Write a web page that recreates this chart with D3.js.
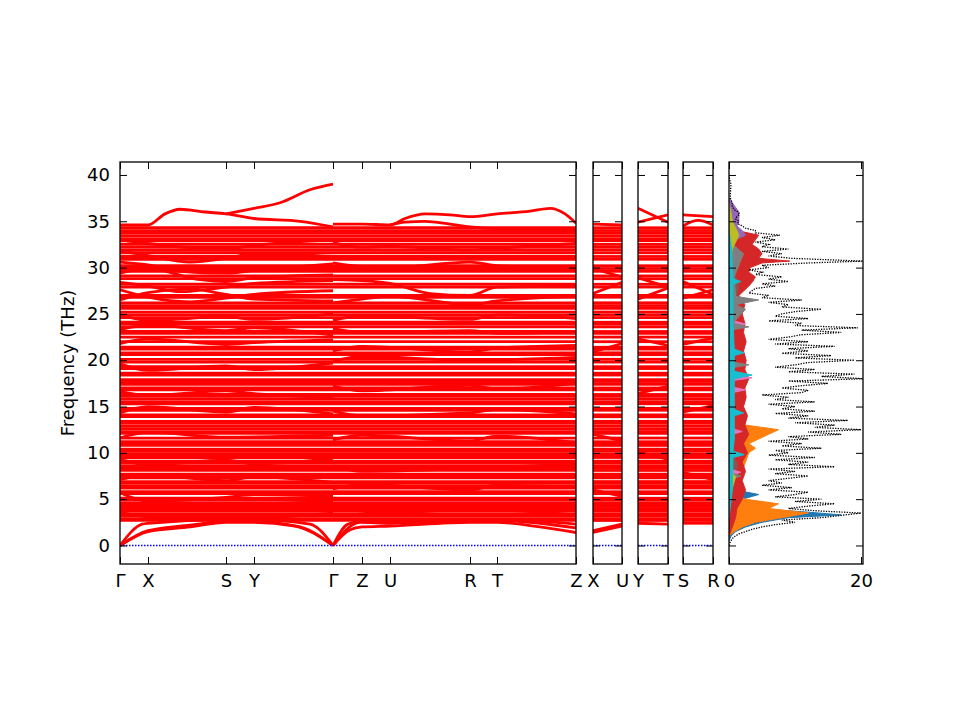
<!DOCTYPE html>
<html>
<head>
<meta charset="utf-8">
<script src="https://cdn.jsdelivr.net/npm/d3@7"></script>
<style>
  body { margin: 0; background: #fff; }
  text { font-family: "DejaVu Sans", sans-serif; }
</style>
</head>
<body>
<div id="chart"></div>
<script>
// high-symmetry path (reciprocal distance) and labels
const pathK = [0, 0.28, 1.06, 1.34, 2.13, 2.42, 2.70, 3.50, 3.77, 4.56];
const pathLabels = ["Γ", "X", "S", "Y", "Γ", "Z", "U", "R", "T", "Z"];
const freqTicks = [0, 5, 10, 15, 20, 25, 30, 35, 40];
const dosTicks = [0, 20];

// nearly flat optical branches (THz)
const flatLevels = [
  34.3, 34.0, 33.7, 33.4, 33.1, 32.9, 32.5, 32.2, 31.9, 31.6, 31.2, 30.9,
  30.2, 29.9, 29.6, 29.1, 28.8, 28.2, 27.9, 27.0, 26.8, 26.2, 25.9, 25.6,
  25.2, 24.9, 24.6, 24.1, 23.9, 23.6, 23.1, 22.9, 22.5, 22.0, 21.4, 21.2,
  20.8, 20.6, 20.1, 19.8, 19.3, 19.1, 18.6, 18.4, 17.9, 17.7, 17.4, 17.0,
  16.8, 16.3, 16.1, 15.8, 15.5, 15.3, 14.8, 14.6, 14.1, 13.9, 13.4, 13.2,
  12.9, 12.6, 12.3, 12.1, 11.6, 11.2, 11.0, 10.8, 10.4, 10.2, 9.9, 9.7,
  9.5, 9.1, 8.9, 8.6, 8.4, 8.1, 7.7, 7.5, 7.3, 6.9, 6.7, 6.4, 6.2, 5.8,
  5.6, 5.1, 4.9, 4.6, 4.4, 4.2, 3.9, 3.7, 3.4, 3.2, 2.9, 2.7
];

// dispersive branches along the main path, [k, THz]
const mainBands = [
  // acoustic, Γ-X-S-Y-Γ
  [[0, 0], [0.28, 1.5], [0.7, 2.0], [1.06, 2.5], [1.34, 2.5], [1.75, 2.1], [2.13, 0]],
  [[0, 0], [0.28, 1.6], [0.7, 2.2], [1.06, 2.6], [1.34, 2.6], [1.8, 2.0], [2.13, 0]],
  [[0, 0], [0.22, 2.3], [0.28, 2.4], [1.06, 2.8], [1.34, 2.8], [1.9, 2.3], [2.13, 0]],
  // acoustic, Γ-Z-U-R-T-Z
  [[2.13, 0], [2.30, 1.7], [2.42, 2.0], [2.70, 2.1], [3.50, 2.5], [3.77, 2.5], [4.2, 2.0], [4.56, 1.4]],
  [[2.13, 0], [2.40, 2.5], [2.70, 2.4], [3.50, 2.7], [3.77, 2.7], [4.56, 1.9]],
  [[2.13, 0], [2.28, 2.3], [2.42, 2.6], [3.0, 2.6], [3.77, 2.8], [4.56, 2.3]],
  // top branches
  [[0, 34.6], [0.28, 34.6], [0.45, 35.8], [0.6, 36.3], [0.85, 36.0], [1.06, 35.8], [1.34, 35.3], [1.8, 35.0], [2.13, 34.4]],
  [[1.06, 35.8], [1.34, 36.4], [1.6, 37.0], [1.9, 38.4], [2.13, 39.0]],
  [[2.13, 34.7], [2.42, 34.7], [2.70, 34.6], [2.85, 35.3], [3.05, 35.8], [3.3, 35.7], [3.50, 35.5], [3.77, 35.8], [4.1, 36.1], [4.3, 36.4], [4.45, 35.8], [4.56, 34.8]],
  [[2.70, 34.6], [2.85, 34.9], [3.05, 35.0], [3.3, 34.7], [3.50, 34.4], [3.77, 34.2], [4.56, 34.1]],
  // crossing optical branches, Γ-X-S-Y-Γ
  [[0, 27.6], [0.28, 26.8], [0.7, 26.3], [1.06, 26.7], [1.34, 27.1], [2.13, 27.5]],
  [[0, 26.5], [0.28, 27.3], [0.7, 27.7], [1.06, 27.1], [1.34, 26.6], [2.13, 26.4]],
  [[0, 29.4], [0.28, 29.9], [0.8, 28.7], [1.06, 28.5], [1.34, 28.9], [2.13, 29.2]],
  [[0, 30.6], [0.28, 30.3], [0.6, 29.6], [1.06, 29.4], [1.34, 29.7], [2.13, 30.4]],
  [[0, 33.0], [0.28, 32.6], [1.06, 32.0], [1.34, 32.4], [2.13, 33.0]],
  [[0, 31.8], [0.28, 31.3], [0.7, 30.6], [1.06, 31.0], [1.34, 31.5], [2.13, 31.2]],
  [[0, 28.4], [0.28, 28.0], [0.6, 27.4], [1.06, 27.9], [1.34, 28.3], [2.13, 28.6]],
  [[0, 24.9], [0.28, 24.3], [1.06, 24.7], [1.34, 24.4], [2.13, 25.0]],
  [[0, 23.3], [0.28, 23.8], [1.06, 23.2], [1.34, 23.5], [2.13, 22.7]],
  [[0, 21.8], [0.28, 22.3], [1.06, 21.7], [1.34, 21.9], [2.13, 22.2]],
  [[0, 19.6], [0.28, 18.9], [1.06, 19.4], [1.34, 19.0], [2.13, 19.7]],
  [[0, 16.6], [0.28, 16.2], [1.06, 16.7], [1.34, 16.4], [2.13, 16.0]],
  [[0, 14.3], [0.28, 15.0], [1.06, 14.4], [1.34, 14.9], [2.13, 14.2]],
  [[0, 11.6], [0.28, 12.2], [1.06, 11.7], [2.13, 11.9]],
  [[0, 9.3], [0.28, 8.7], [1.06, 9.2], [1.34, 8.8], [2.13, 9.4]],
  [[0, 7.1], [0.28, 7.6], [1.06, 7.0], [1.34, 7.4], [2.13, 6.8]],
  [[0, 5.7], [0.28, 4.8], [1.06, 5.2], [1.34, 5.5], [2.13, 5.3]],
  [[0, 4.0], [0.28, 4.5], [1.06, 4.1], [1.34, 4.4], [2.13, 4.7]],
  [[0, 3.6], [0.28, 3.1], [1.06, 3.0], [1.34, 3.0], [2.13, 3.5]],
  // crossing optical branches, Γ-Z-U-R-T-Z
  [[2.13, 28.7], [2.42, 28.6], [2.70, 28.3], [3.1, 27.2], [3.50, 27.0], [3.77, 27.9], [4.56, 28.0]],
  [[2.13, 30.5], [2.42, 30.1], [2.70, 30.0], [3.50, 30.6], [3.77, 30.2], [4.56, 29.9]],
  [[2.13, 32.7], [2.42, 32.2], [2.70, 32.3], [3.50, 31.9], [3.77, 32.1], [4.56, 32.6]],
  [[2.13, 26.2], [2.42, 26.6], [2.70, 26.9], [3.50, 26.0], [3.77, 26.4], [4.56, 26.9]],
  [[2.13, 24.3], [2.42, 24.8], [3.50, 24.4], [3.77, 24.9], [4.56, 24.5]],
  [[2.13, 23.4], [2.42, 23.0], [3.50, 23.2], [3.77, 22.9], [4.56, 23.1]],
  [[2.13, 21.0], [2.42, 21.5], [3.50, 20.9], [3.77, 21.3], [4.56, 21.6]],
  [[2.13, 19.9], [2.42, 20.4], [3.50, 20.0], [4.56, 20.3]],
  [[2.13, 17.2], [2.42, 16.7], [3.50, 17.3], [3.77, 16.9], [4.56, 17.5]],
  [[2.13, 14.5], [2.42, 14.0], [3.50, 14.3], [3.77, 14.7], [4.56, 14.2]],
  [[2.13, 11.4], [2.42, 11.9], [3.50, 11.3], [3.77, 11.8], [4.56, 11.1]],
  [[2.13, 8.6], [2.42, 8.0], [3.50, 8.3], [4.56, 8.8]],
  [[2.13, 6.1], [2.42, 6.6], [3.50, 6.0], [3.77, 6.5], [4.56, 6.3]],
  [[2.13, 4.3], [2.42, 3.7], [2.70, 3.5], [3.50, 3.9], [4.56, 3.3]]
];

// short segments X-U, Y-T, S-R
const xuBands = [
  [[0, 1.4], [0.29, 2.1]], [[0, 1.6], [0.29, 2.3]], [[0, 34.7], [0.29, 34.6]],
  [[0, 27.2], [0.29, 28.4]], [[0, 29.9], [0.29, 29.0]], [[0, 12.0], [0.29, 11.3]],
  [[0, 20.9], [0.29, 21.8]], [[0, 6.0], [0.29, 5.3]]
];
const ytBands = [
  [[0, 2.4], [0.30, 2.3]], [[0, 36.4], [0.30, 34.9]], [[0, 34.9], [0.30, 35.7]],
  [[0, 26.6], [0.30, 27.8]], [[0, 28.9], [0.30, 27.9]], [[0, 16.4], [0.30, 17.2]],
  [[0, 10.1], [0.30, 9.3]], [[0, 22.3], [0.30, 21.6]]
];
const srBands = [
  [[0, 2.4], [0.30, 2.4]], [[0, 35.7], [0.30, 35.5]], [[0, 34.5], [0.15, 35.1], [0.30, 34.6]],
  [[0, 26.7], [0.30, 27.6]], [[0, 28.5], [0.30, 27.1]], [[0, 21.7], [0.30, 22.4]],
  [[0, 14.4], [0.30, 15.1]], [[0, 7.9], [0.30, 7.1]]
];

// total DOS, [THz, states]
const dosTotal = [
  [0, 0], [0.25, 0.1], [0.5, 0.3], [0.75, 0.5], [1.0, 0.9], [1.25, 1.5], [1.5, 2.5], [1.75, 3.5],
  [2.0, 5], [2.25, 7], [2.5, 10], [2.75, 8], [3.0, 14], [3.25, 17], [3.5, 20], [3.75, 13],
  [4.0, 9], [4.25, 12], [4.5, 16], [4.75, 10], [5.0, 14], [5.25, 7], [5.5, 10], [5.75, 12],
  [6.0, 6], [6.25, 9.5], [6.5, 5], [6.75, 8], [7.0, 6], [7.25, 9], [7.5, 12], [7.75, 7],
  [8.0, 10], [8.25, 6], [8.5, 16], [8.75, 9], [9.0, 12], [9.25, 7], [9.5, 13], [9.75, 6],
  [10.0, 9], [10.25, 7], [10.5, 14], [10.75, 8], [11.0, 11], [11.25, 6], [11.5, 12], [11.75, 9],
  [12.0, 17], [12.25, 12], [12.5, 20], [12.75, 13], [13.0, 16], [13.25, 10], [13.5, 18], [13.75, 9],
  [14.0, 12], [14.25, 7], [14.5, 13], [14.75, 8], [15.0, 10], [15.25, 6], [15.5, 13], [15.75, 7],
  [16.0, 9], [16.25, 5], [16.5, 11], [16.75, 12], [17.0, 8], [17.25, 11], [17.5, 15], [17.75, 9],
  [18.0, 20.5], [18.25, 14], [18.5, 19], [18.75, 9], [19.0, 13], [19.25, 7], [19.5, 10], [19.75, 12],
  [20.0, 19], [20.25, 10], [20.5, 15.5], [20.75, 8], [21.0, 12], [21.25, 9], [21.5, 16], [21.75, 7],
  [22.0, 12], [22.25, 6], [22.5, 9], [22.75, 11], [23.0, 17], [23.25, 11], [23.5, 19.5], [23.75, 10],
  [24.0, 11], [24.25, 6], [24.5, 12], [24.75, 7], [25.0, 8], [25.25, 10], [25.5, 14], [25.75, 8],
  [26.0, 9], [26.25, 6], [26.5, 11], [26.75, 5], [27.0, 6], [27.25, 3], [27.5, 3.5], [27.75, 4],
  [28.0, 7], [28.25, 5], [28.5, 9], [28.75, 6], [29.0, 8], [29.25, 4], [29.5, 5], [29.75, 3],
  [30.0, 6], [30.25, 5], [30.5, 12], [30.7, 20.3], [31.0, 9.5], [31.25, 6], [31.5, 8], [31.75, 5],
  [32.0, 9], [32.25, 5], [32.5, 6], [32.75, 4], [33.0, 7], [33.25, 5], [33.5, 7.7], [33.75, 4],
  [34.0, 4], [34.25, 2.5], [34.5, 2], [34.75, 1.3], [35.0, 1.5], [35.25, 1], [35.5, 1.2], [35.75, 1.6],
  [36.0, 1.4], [36.25, 0.8], [36.5, 0.6], [36.75, 0.4], [37.0, 0.5], [37.5, 0.2], [38.0, 0.2], [39.0, 0.3],
  [39.5, 0.1], [40.0, 0]
];

// partial DOS by group, [THz, states]
const pdosBlue = [[0.5, 0], [1, 0.3], [1.5, 1], [2, 2.5], [2.5, 5], [3, 9], [3.3, 17], [3.6, 12], [4, 4], [4.5, 3], [5, 2], [5.5, 4.5], [6, 1], [7, 0.5], [9, 0.4], [12, 0.3], [16, 0.2], [20, 0]];
const pdosOrange = [[1, 0], [1.5, 0.8], [2, 2], [2.5, 4], [3, 8], [3.5, 12], [4, 6], [4.5, 7.5], [5, 2.5], [5.5, 1], [6, 1.5], [7, 1.5], [8, 2], [9, 2.5], [10, 3], [10.5, 4], [11, 3], [11.5, 4.5], [12, 6], [12.5, 7.5], [13, 2.5], [13.5, 1.5], [14, 1.2], [15, 1], [16, 1], [18, 1.2], [20, 1], [22, 1], [24, 0.8], [26, 0.8], [28, 0.6], [30, 0.5], [32, 0.4], [34, 0.2], [35, 0]];
const pdosGreen = [[2, 0], [4, 0.5], [6, 1], [8, 1], [10, 1.2], [11, 1.5], [12, 1.5], [14, 1], [16, 1], [18, 1.2], [19.5, 1.6], [20, 1], [22, 1], [24, 1], [26, 1.2], [28, 1.5], [30, 2], [31.5, 3.2], [32, 1.5], [33, 1], [34, 0.5], [35, 0]];
const pdosRed = [[1, 0], [2, 0.5], [3, 1], [4, 1.2], [5, 2], [6, 2.5], [7, 2], [8, 2.5], [9, 2], [10, 2.8], [11, 2.2], [12, 3], [13, 2.4], [14, 2.8], [15, 2.2], [16, 2.6], [17, 2.4], [18, 3], [19, 2.4], [20, 2.6], [21, 2.2], [22, 2.6], [23, 2.2], [24, 2.4], [25, 2], [26, 2.4], [27, 1.5], [28, 3], [28.5, 3.6], [29, 4], [29.5, 3], [30, 3.2], [30.5, 5], [30.7, 9.2], [31, 4.5], [31.5, 5], [32, 4.5], [32.5, 3.5], [33, 4], [33.5, 4.5], [34, 1.2], [34.5, 0]];
const pdosPurple = [[24, 0], [26.3, 0.3], [26.5, 3.8], [26.8, 0.3], [30, 0], [32, 0.5], [33, 1], [33.5, 2.5], [34, 2], [34.5, 1.2], [35, 1.5], [35.5, 1.5], [36, 1.5], [36.5, 1], [37, 0.5], [37.5, 0]];
const pdosBrown = [[3, 0], [6, 0.5], [8.7, 1.3], [10, 0.5], [15, 0.5], [20, 0.5], [25, 0.6], [28, 1.5], [29, 1], [32, 0.5], [34, 0]];
const pdosPink = [[5, 0], [7.6, 0.4], [7.9, 1.8], [8.2, 0.4], [12, 0.5], [12.3, 2], [12.6, 0.5], [16.5, 0.5], [16.8, 2.5], [17.1, 0.5], [17.8, 0.6], [18.1, 3.5], [18.5, 0.5], [23.6, 0.5], [23.9, 2.5], [24.3, 0.5], [27, 0.3], [30, 0]];
const pdosGray = [[4, 0], [7.2, 0.5], [7.5, 1.8], [7.8, 0.5], [12, 0.6], [19.2, 0.6], [19.5, 3], [19.8, 0.6], [23.3, 0.6], [23.6, 3], [24, 0.6], [25.5, 2.5], [26, 1], [26.5, 4.5], [26.9, 1], [29, 0.8], [31.5, 2.2], [32.5, 0.6], [34, 0]];
const pdosOlive = [[5, 0], [7.4, 1], [8, 0.3], [30, 0], [32, 0.5], [33.5, 1.5], [34, 1.2], [35, 0.5], [36, 0.3], [37, 0]];
const pdosCyan = [[3, 0], [6, 0.5], [9.5, 0.6], [9.8, 2.3], [10.2, 0.6], [11.5, 0.8], [14, 0.8], [14.3, 2.2], [14.7, 0.8], [18, 0.8], [18.4, 3.5], [18.8, 0.8], [20.5, 0.8], [20.8, 2.3], [21.2, 0.8], [24, 0.6], [28.2, 0.6], [28.5, 1.8], [28.8, 0.6], [32, 0.4], [34, 0]];

const pdosList = [pdosBlue, pdosOrange, pdosGreen, pdosRed, pdosPurple, pdosBrown, pdosPink, pdosGray, pdosOlive, pdosCyan];
const pdosColors = ["#1f77b4", "#ff7f0e", "#2ca02c", "#d62728", "#9467bd", "#8c564b", "#e377c2", "#7f7f7f", "#bcbd22", "#17becf"];

// layout
let width = 960;
let height = 720;
let plotTop = 162;
let plotBottom = 564;
let tickLen = 7;
let bandWidth = 2.8;

let svg = d3
    .select("#chart")
    .append("svg")
    .attr("width", width)
    .attr("height", height);

let y = d3.scaleLinear().domain([-2, 41.4]).range([plotBottom, plotTop]);

let panels = [
  { k: [0, 4.56], x0: 120, x1: 576, ticks: pathK, labels: pathLabels, bands: mainBands },
  { k: [0, 0.29], x0: 593, x1: 622, ticks: [0, 0.29], labels: ["X", "U"], bands: xuBands },
  { k: [0, 0.30], x0: 638, x1: 668, ticks: [0, 0.30], labels: ["Y", "T"], bands: ytBands },
  { k: [0, 0.30], x0: 683, x1: 713, ticks: [0, 0.30], labels: ["S", "R"], bands: srBands }
];

function styleAxis(g) {
  g.select(".domain").remove();
  g.selectAll("line").attr("stroke", "#000").attr("stroke-width", 1);
  g.selectAll("text")
    .attr("fill", "#000")
    .style("font-family", "DejaVu Sans")
    .style("font-size", "18px");
}

panels.forEach((p, i) => {
  let x = d3.scaleLinear().domain(p.k).range([p.x0, p.x1]);
  let g = svg.append("g");

  g.append("clipPath")
    .attr("id", "clip" + i)
    .append("rect")
    .attr("x", p.x0)
    .attr("y", plotTop)
    .attr("width", p.x1 - p.x0)
    .attr("height", plotBottom - plotTop);

  let line = d3
      .line()
      .x((d) => x(d[0]))
      .y((d) => y(d[1]))
      .curve(d3.curveMonotoneX);

  let bandsG = g.append("g").attr("clip-path", "url(#clip" + i + ")");

  bandsG
    .selectAll("path.flat")
    .data(flatLevels)
    .enter()
    .append("path")
    .attr("class", "flat")
    .attr("d", (f) => line([[p.k[0], f], [p.k[1], f]]))
    .attr("fill", "none")
    .attr("stroke", "#ff0000")
    .attr("stroke-width", bandWidth);

  bandsG
    .selectAll("path.disp")
    .data(p.bands)
    .enter()
    .append("path")
    .attr("class", "disp")
    .attr("d", line)
    .attr("fill", "none")
    .attr("stroke", "#ff0000")
    .attr("stroke-width", bandWidth);

  // zero line
  bandsG
    .append("line")
    .attr("x1", p.x0)
    .attr("x2", p.x1)
    .attr("y1", y(0))
    .attr("y2", y(0))
    .attr("stroke", "#0000ff")
    .attr("stroke-width", 1.5)
    .attr("stroke-dasharray", "1.5,1.5");

  // axes with inward ticks
  g.append("g")
    .attr("transform", "translate(0," + plotBottom + ")")
    .call(
      d3.axisBottom(x)
        .tickValues(p.ticks)
        .tickSizeInner(-tickLen)
        .tickSizeOuter(0)
        .tickPadding(10)
        .tickFormat((d, j) => p.labels[j])
    )
    .call(styleAxis);

  g.append("g")
    .attr("transform", "translate(0," + plotTop + ")")
    .call(d3.axisTop(x).tickValues(p.ticks).tickSizeInner(-tickLen).tickSizeOuter(0).tickFormat(""))
    .call(styleAxis);

  g.append("g")
    .attr("transform", "translate(" + p.x0 + ",0)")
    .call(
      d3.axisLeft(y)
        .tickValues(freqTicks)
        .tickSizeInner(-tickLen)
        .tickSizeOuter(0)
        .tickPadding(10)
        .tickFormat(i === 0 ? d3.format("d") : "")
    )
    .call(styleAxis);

  g.append("g")
    .attr("transform", "translate(" + p.x1 + ",0)")
    .call(d3.axisRight(y).tickValues(freqTicks).tickSizeInner(-tickLen).tickSizeOuter(0).tickFormat(""))
    .call(styleAxis);

  g.append("rect")
    .attr("x", p.x0)
    .attr("y", plotTop)
    .attr("width", p.x1 - p.x0)
    .attr("height", plotBottom - plotTop)
    .attr("fill", "none")
    .attr("stroke", "#000")
    .attr("stroke-width", 1.3);
});

// DOS panel
let dx0 = 729, dx1 = 863;
let xD = d3.scaleLinear().domain([0, 20.3]).range([dx0, dx1]);
let dosG = svg.append("g");

dosG.append("clipPath")
  .attr("id", "clipdos")
  .append("rect")
  .attr("x", dx0)
  .attr("y", plotTop)
  .attr("width", dx1 - dx0)
  .attr("height", plotBottom - plotTop);

let dosInner = dosG.append("g").attr("clip-path", "url(#clipdos)");

let pArea = d3
    .area()
    .y((d) => y(d[0]))
    .x0(xD(0))
    .x1((d) => xD(d[1]));

dosInner
  .selectAll("path.pdos")
  .data(pdosList)
  .enter()
  .append("path")
  .attr("class", "pdos")
  .attr("d", pArea)
  .attr("fill", (d, i) => pdosColors[i])
  .attr("stroke", (d, i) => pdosColors[i])
  .attr("stroke-width", 1);

dosInner
  .append("path")
  .datum(dosTotal)
  .attr("d", d3.line().x((d) => xD(d[1])).y((d) => y(d[0])))
  .attr("fill", "none")
  .attr("stroke", "#000")
  .attr("stroke-width", 1.3)
  .attr("stroke-dasharray", "1.3,1.3");

dosG.append("g")
  .attr("transform", "translate(0," + plotBottom + ")")
  .call(d3.axisBottom(xD).tickValues(dosTicks).tickSizeInner(-tickLen).tickSizeOuter(0).tickPadding(10).tickFormat(d3.format("d")))
  .call(styleAxis);

dosG.append("g")
  .attr("transform", "translate(0," + plotTop + ")")
  .call(d3.axisTop(xD).tickValues(dosTicks).tickSizeInner(-tickLen).tickSizeOuter(0).tickFormat(""))
  .call(styleAxis);

dosG.append("g")
  .attr("transform", "translate(" + dx0 + ",0)")
  .call(d3.axisLeft(y).tickValues(freqTicks).tickSizeInner(-tickLen).tickSizeOuter(0).tickFormat(""))
  .call(styleAxis);

dosG.append("g")
  .attr("transform", "translate(" + dx1 + ",0)")
  .call(d3.axisRight(y).tickValues(freqTicks).tickSizeInner(-tickLen).tickSizeOuter(0).tickFormat(""))
  .call(styleAxis);

dosG.append("rect")
  .attr("x", dx0)
  .attr("y", plotTop)
  .attr("width", dx1 - dx0)
  .attr("height", plotBottom - plotTop)
  .attr("fill", "none")
  .attr("stroke", "#000")
  .attr("stroke-width", 1.3);

// y label
svg.append("text")
  .attr("transform", "translate(74," + (plotTop + plotBottom) / 2 + ") rotate(-90)")
  .attr("text-anchor", "middle")
  .style("font-size", "18px")
  .text("Frequency (THz)");
</script>
</body>
</html>
